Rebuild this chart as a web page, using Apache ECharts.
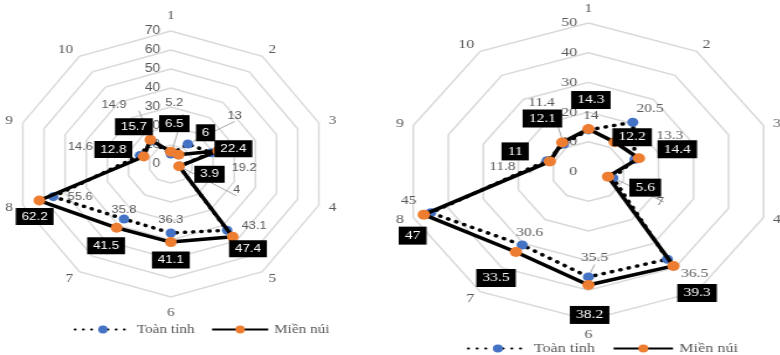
<!DOCTYPE html>
<html>
<head>
<meta charset="utf-8">
<script src="https://cdn.jsdelivr.net/npm/echarts@6/dist/echarts.min.js"></script>
<style>
  html, body { margin: 0; padding: 0; background: #fff; }
  #wrap { position: relative; width: 780px; height: 355px; overflow: hidden; }
  .panel { position: absolute; top: 0; height: 355px; transform-origin: 0 0; }
</style>
</head>
<body>
<div id="wrap">
  <div id="left" class="panel"></div>
  <div id="right" class="panel"></div>
</div>
<script>
// Axis categories (clockwise from the top) and series names
const categories = ['1', '2', '3', '4', '5', '6', '7', '8', '9', '10'];
const seriesNames = ['Toàn tỉnh', 'Miền núi'];

// Left panel: scale 0–70, step 10
const leftMax = 70;
const leftStep = 10;
const leftProvince = [5.2, 13, 19.2, 4, 43.1, 36.3, 35.8, 55.6, 14.6, 14.9];
const leftMountain = [6.5, 6, 22.4, 3.9, 47.4, 41.1, 41.5, 62.2, 12.8, 15.7];

// Right panel: scale 0–50, step 10
const rightMax = 50;
const rightStep = 10;
const rightProvince = [14, 20.5, 13.3, 7, 36.5, 35.5, 30.6, 45, 11.8, 11.4];
const rightMountain = [14.3, 12.2, 14.4, 5.6, 39.3, 38.2, 33.5, 47, 11, 12.1];

// Label placement (offsets from each point, px) and leader-line flags
const leftProvinceOffsets = [[3,-51],[40,-28],[28,15],[49,24],[23,-4],[0,-13],[0,-9],[23,0],[-51,-8],[-32,-36]];
const leftProvinceGuides = [1,1,0,1,0,0,0,0,0,1];
const leftMountainOffsets = [[3,-28],[23,-22],[13,-2],[26,8],[13,12],[0,18],[-9,18],[-4,16],[-26,-7],[-14,-13]];
const rightProvinceOffsets = [[2,-14],[14,-14],[28,-24],[38,24],[22,15],[5,-19],[6,-12],[-18,-12],[-36,6],[-18,-41]];
const rightProvinceGuides = [0,0,0,1,0,1,0,0,1,1];
const rightMountainOffsets = [[2,-29],[14,-5],[31,-9],[30,11],[19,27],[1,30],[-16,26],[-9,21],[-28,-10],[-16,-24]];

const SANS = '"Liberation Sans", Arial, sans-serif';
const SERIF = '"Liberation Serif", "Times New Roman", serif';
const GREY = '#595959';

function pointData(values, offsets, guides) {
  const items = values.map((v, i) => ({
    value: [v, i],
    label: { offset: offsets[i] },
    labelLine: { show: !!(guides && guides[i]) }
  }));
  // close the polygon back at the first axis
  items.push({ value: [values[0], values.length], symbol: 'none', label: { show: false }, labelLine: { show: false } });
  return items;
}

function buildOption(cfg) {
  const n = categories.length;
  // radar places indicators counter-clockwise, so list them in reverse after the first
  const ordered = [categories[0]].concat(categories.slice(1).reverse());
  return {
    animation: false,
    radar: {
      center: cfg.center,
      radius: cfg.radius,
      startAngle: 90,
      shape: 'polygon',
      splitNumber: cfg.max / cfg.step,
      nameGap: cfg.nameGap,
      axisName: { color: GREY, fontFamily: SERIF, fontSize: 13 },
      indicator: ordered.map(name => ({ name: name, min: 0, max: cfg.max })),
      axisLine: { show: false },
      axisTick: { show: false },
      axisLabel: { show: false },
      splitArea: { show: false },
      splitLine: { lineStyle: { color: '#d9d9d9', width: 1.5 } }
    },
    polar: { center: cfg.center, radius: cfg.radius },
    angleAxis: {
      type: 'value', min: 0, max: n, startAngle: 90, clockwise: true,
      axisLine: { show: false }, axisTick: { show: false },
      axisLabel: { show: false }, splitLine: { show: false }
    },
    radiusAxis: {
      type: 'value', min: 0, max: cfg.max, interval: cfg.step,
      axisLine: { show: false }, axisTick: { show: false }, splitLine: { show: false },
      axisLabel: { color: GREY, fontFamily: cfg.tickFont, fontSize: cfg.tickSize, margin: 9 },
      z: 1
    },
    legend: {
      data: seriesNames,
      left: cfg.legendLeft, top: cfg.legendTop,
      itemWidth: 48, itemHeight: 10, itemGap: 14,
      selectedMode: false,
      textStyle: { color: GREY, fontFamily: SERIF, fontSize: 13 }
    },
    series: [
      {
        name: seriesNames[0],
        type: 'line',
        coordinateSystem: 'polar',
        data: pointData(cfg.province, cfg.provinceOffsets, cfg.provinceGuides),
        symbol: 'circle', symbolSize: 9,
        itemStyle: { color: '#4472C4' },
        lineStyle: { color: '#000', width: 3.5, type: [0.5, 6.5], cap: 'round' },
        label: {
          show: true, position: 'inside', color: GREY,
          fontFamily: cfg.labelFont, fontSize: cfg.labelSize,
          formatter: p => String(p.value[0])
        },
        labelLine: { lineStyle: { color: '#a6a6a6', width: 1 } },
        z: 3
      },
      {
        name: seriesNames[1],
        type: 'line',
        coordinateSystem: 'polar',
        data: pointData(cfg.mountain, cfg.mountainOffsets, null),
        symbol: 'circle', symbolSize: 10,
        itemStyle: { color: '#ED7D31' },
        lineStyle: { color: '#000', width: 3.5 },
        label: {
          show: true, position: 'inside', color: '#fff',
          backgroundColor: '#000', padding: [3, 5, 2, 5],
          fontFamily: cfg.labelFont, fontSize: cfg.boxSize,
          formatter: p => String(p.value[0])
        },
        z: 4
      }
    ]
  };
}

function mount(id, left, scaleX, cfg) {
  const el = document.getElementById(id);
  el.style.left = left + 'px';
  el.style.width = Math.round(390 / scaleX) + 'px';
  el.style.transform = 'scaleX(' + scaleX + ')';
  const chart = echarts.init(el, null, { renderer: 'canvas' });
  chart.setOption(buildOption(cfg));
}

mount('left', 0, 1.17, {
  center: [146, 164], radius: 133, max: leftMax, step: leftStep, nameGap: 9,
  province: leftProvince, mountain: leftMountain,
  provinceOffsets: leftProvinceOffsets, provinceGuides: leftProvinceGuides,
  mountainOffsets: leftMountainOffsets,
  tickFont: SANS, tickSize: 12, labelFont: SANS, labelSize: 11, boxSize: 11.5,
  legendLeft: 58, legendTop: 318
});

mount('right', 390, 1.24, {
  center: [160, 171.5], radius: 148.5, max: rightMax, step: rightStep, nameGap: 8,
  province: rightProvince, mountain: rightMountain,
  provinceOffsets: rightProvinceOffsets, provinceGuides: rightProvinceGuides,
  mountainOffsets: rightMountainOffsets,
  tickFont: SERIF, tickSize: 13, labelFont: SERIF, labelSize: 12.5, boxSize: 12.5,
  legendLeft: 57, legendTop: 337
});
</script>
</body>
</html>
